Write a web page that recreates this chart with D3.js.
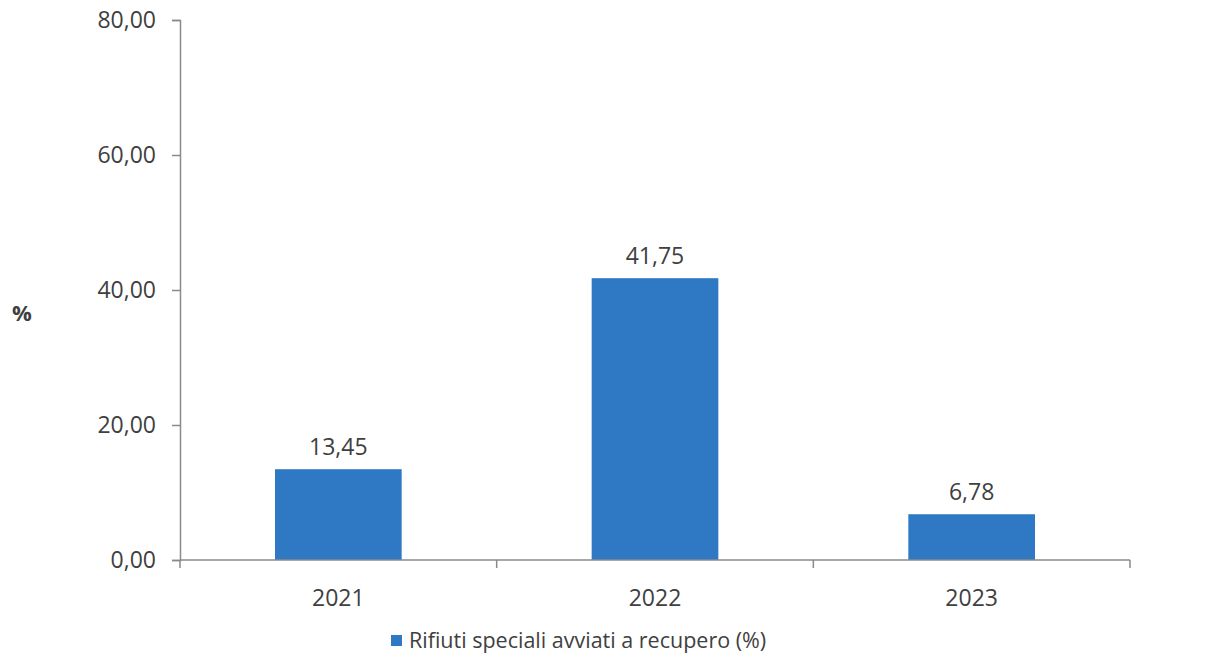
<!DOCTYPE html>
<html>
<head>
<meta charset="utf-8">
<script src="https://cdn.jsdelivr.net/npm/d3@7"></script>
<style>
  body { margin: 0; background: #fff; }
  text { font-family: "Open Sans", "Liberation Sans", sans-serif; fill: #404040; }
</style>
</head>
<body>
<script>
var years  = ["2021", "2022", "2023"]
var values = [13.45, 41.75, 6.78]
var yTicks = [0, 20, 40, 60, 80]
var seriesName = "Rifiuti speciali avviati a recupero (%)"

var W = 1213, H = 657
var mLeft = 180, mRight = 1130, mTop = 20, mBottom = 560
var barColor = "#2f78c4"
var axisColor = "#8a8a8a"
var fmt = function(v) { return v.toFixed(2).replace(".", ",") }

var svg = d3.select("body").append("svg")
    .attr("width", W)
    .attr("height", H)

var x = d3.scaleBand()
    .domain(years)
    .range([mLeft, mRight])
    .paddingInner(0.6)
    .paddingOuter(0.3)

var y = d3.scaleLinear()
    .domain([0, 80])
    .range([mBottom, mTop])

// Bars
svg.selectAll(".bar")
    .data(values)
    .enter().append("rect")
    .attr("class", "bar")
    .attr("x", function(d, i) { return x(years[i]) })
    .attr("y", function(d) { return y(d) })
    .attr("width", x.bandwidth())
    .attr("height", function(d) { return y(0) - y(d) })
    .style("fill", barColor)

// Value labels
svg.selectAll(".val")
    .data(values)
    .enter().append("text")
    .attr("class", "val")
    .attr("x", function(d, i) { return x(years[i]) + x.bandwidth() / 2 })
    .attr("y", function(d) { return y(d) - 14 })
    .attr("text-anchor", "middle")
    .style("font-size", "23px")
    .text(fmt)

// Y axis
var yAxis = d3.axisLeft(y)
    .tickValues(yTicks)
    .tickSize(8)
    .tickPadding(16)
    .tickFormat(fmt)
var gy = svg.append("g")
    .attr("transform", "translate(" + mLeft + ",0)")
    .call(yAxis)
gy.attr("font-family", null).attr("font-size", null)
gy.select(".domain").style("stroke", axisColor).style("stroke-width", 1.5)
gy.selectAll(".tick line").style("stroke", axisColor).style("stroke-width", 1.5)
gy.selectAll(".tick text").style("font-size", "23px").style("fill", "#404040")

// X axis (tick marks at category boundaries)
var bounds = [0, 1, 2, 3].map(function(k) { return mLeft + k * (mRight - mLeft) / 3 })
svg.append("line")
    .attr("x1", mLeft).attr("x2", mRight)
    .attr("y1", y(0)).attr("y2", y(0))
    .style("stroke", axisColor).style("stroke-width", 1.5)
svg.selectAll(".xtick")
    .data(bounds)
    .enter().append("line")
    .attr("class", "xtick")
    .attr("x1", function(d) { return d }).attr("x2", function(d) { return d })
    .attr("y1", y(0)).attr("y2", y(0) + 8)
    .style("stroke", axisColor).style("stroke-width", 1.5)
svg.selectAll(".xlab")
    .data(years)
    .enter().append("text")
    .attr("class", "xlab")
    .attr("x", function(d) { return x(d) + x.bandwidth() / 2 })
    .attr("y", y(0) + 46)
    .attr("text-anchor", "middle")
    .style("font-size", "23px")
    .text(function(d) { return d })

// Y axis title
svg.append("text")
    .attr("x", 22)
    .attr("y", 321)
    .attr("text-anchor", "middle")
    .style("font-size", "22px")
    .style("font-weight", "bold")
    .text("%")

// Legend
svg.append("rect")
    .attr("x", 391).attr("y", 635)
    .attr("width", 11).attr("height", 11)
    .style("fill", barColor)
svg.append("text")
    .attr("x", 409)
    .attr("y", 648)
    .style("font-size", "21.5px")
    .text(seriesName)
</script>
</body>
</html>
